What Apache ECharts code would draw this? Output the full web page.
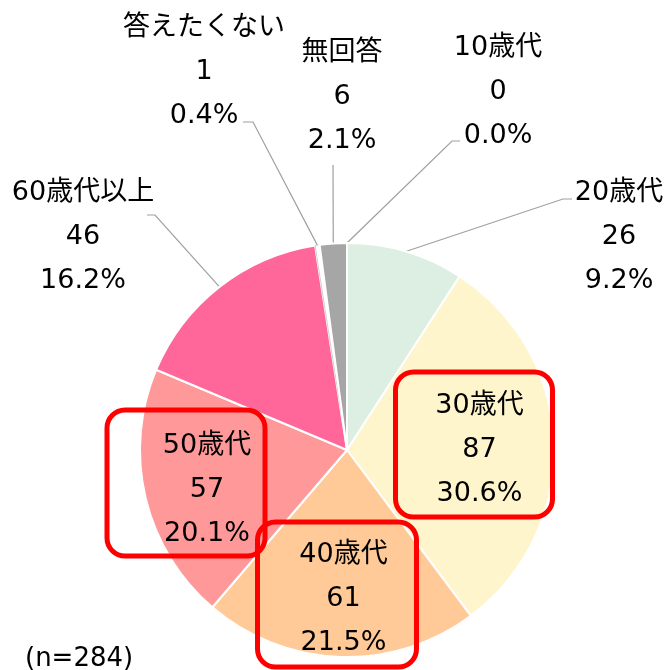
<!DOCTYPE html>
<html lang="ja">
<head>
<meta charset="utf-8">
<title>年代</title>
<script src="https://cdn.jsdelivr.net/npm/echarts@6/dist/echarts.min.js"></script>
<style>
    html, body {
        margin: 0;
        padding: 0;
        background: #ffffff;
    }
    #age_chart {
        width: 664px;
        height: 670px;
    }
</style>
</head>
<body>
<div id="age_chart"></div>
<script>
// 年代のカテゴリ
var categories = ['10歳代', '20歳代', '30歳代', '40歳代', '50歳代', '60歳代以上', '答えたくない', '無回答'];
// 回答数
var counts = [0, 26, 87, 61, 57, 46, 1, 6];
// スライスの色
var sliceColors = ['#C5E0B4', '#DDEFE3', '#FFF5CC', '#FFCA97', '#FF9999', '#FF6699', '#FFFFFF', '#A6A6A6'];
// 赤枠で囲むカテゴリ
var boxedCategories = ['30歳代', '40歳代', '50歳代'];

// ラベルの位置（外側は中心、赤枠は上端中央）
var labelPos = {
    '10歳代': [498, 92],
    '20歳代': [619, 237],
    '30歳代': [474, 372],
    '40歳代': [337, 522],
    '50歳代': [186, 410],
    '60歳代以上': [83, 237],
    '答えたくない': [204, 72],
    '無回答': [342, 97]
};

// 引き出し線の折れ点と終点
var leaderPoints = {
    '10歳代': [[452, 141], [460, 141]],
    '20歳代': [[563, 199], [572, 199]],
    '60歳代以上': [[155, 215], [147, 215]],
    '答えたくない': [[253, 122], [243, 122]],
    '無回答': [[333, 165], [333, 165]]
};

// 赤枠の余白
var boxPadding = {
    '30歳代': [12, 18, 1, 29],
    '40歳代': [11, 18, 2, 31],
    '50歳代': [14, 3, 0, 45]
};

var FONT = "'DejaVu Sans', 'Noto Sans CJK JP', sans-serif";

/**
 * 年代の円グラフ
 */
function ageChart() {
    var dom = document.getElementById('age_chart');
    var myChart = echarts.init(dom, null, {renderer: 'canvas'});

    var total = 0;
    for (var i = 0; i < counts.length; i++) {
        total += counts[i];
    }

    var pieData = [];
    for (var j = 0; j < categories.length; j++) {
        var name = categories[j];
        var item = {
            name: name,
            value: counts[j],
            itemStyle: {color: sliceColors[j]}
        };
        if (name === '答えたくない') {
            item.itemStyle.borderColor = '#D0D0D0';
            item.itemStyle.borderWidth = 1;
        }
        if (boxedCategories.indexOf(name) >= 0) {
            item.label = {
                position: 'inside',
                borderColor: '#FF0000',
                borderWidth: 5,
                borderRadius: 18,
                width: 110,
                padding: boxPadding[name]
            };
            item.labelLine = {show: false};
        }
        pieData.push(item);
    }

    var option = null;
    option = {
        backgroundColor: '#ffffff',
        animation: false,
        title: {
            text: '(n=' + total + ')',
            left: 20,
            top: 641,
            textStyle: {
                fontFamily: FONT,
                fontSize: 26,
                fontWeight: 'normal',
                color: '#000000'
            }
        },
        series: [
            {
                type: 'pie',
                center: [347, 450],
                radius: 207,
                startAngle: 90,
                clockwise: true,
                avoidLabelOverlap: false,
                itemStyle: {
                    borderColor: '#ffffff',
                    borderWidth: 2
                },
                label: {
                    show: true,
                    position: 'outside',
                    fontFamily: FONT,
                    fontSize: 27,
                    lineHeight: 44,
                    color: '#000000',
                    align: 'center',
                    formatter: function (params) {
                        var pct = (params.value / total * 100).toFixed(1);
                        return params.name + '\n' + params.value + '\n' + pct + '%';
                    }
                },
                labelLine: {
                    show: true,
                    length: 20,
                    length2: 10,
                    lineStyle: {
                        color: '#A0A0A0',
                        width: 1.2
                    }
                },
                labelLayout: function (params) {
                    var name = categories[params.dataIndex];
                    var p = labelPos[name];
                    var boxed = boxedCategories.indexOf(name) >= 0;
                    var layout = {
                        x: p[0],
                        y: p[1],
                        align: 'center',
                        verticalAlign: boxed ? 'top' : 'middle'
                    };
                    var lp = leaderPoints[name];
                    if (lp && params.labelLinePoints) {
                        layout.labelLinePoints = [params.labelLinePoints[0], lp[0], lp[1]];
                    }
                    return layout;
                },
                emphasis: {disabled: true},
                data: pieData
            }
        ]
    };
    if (option && typeof option === "object") {
        myChart.setOption(option, true);
    }
}

ageChart();
</script>
</body>
</html>
